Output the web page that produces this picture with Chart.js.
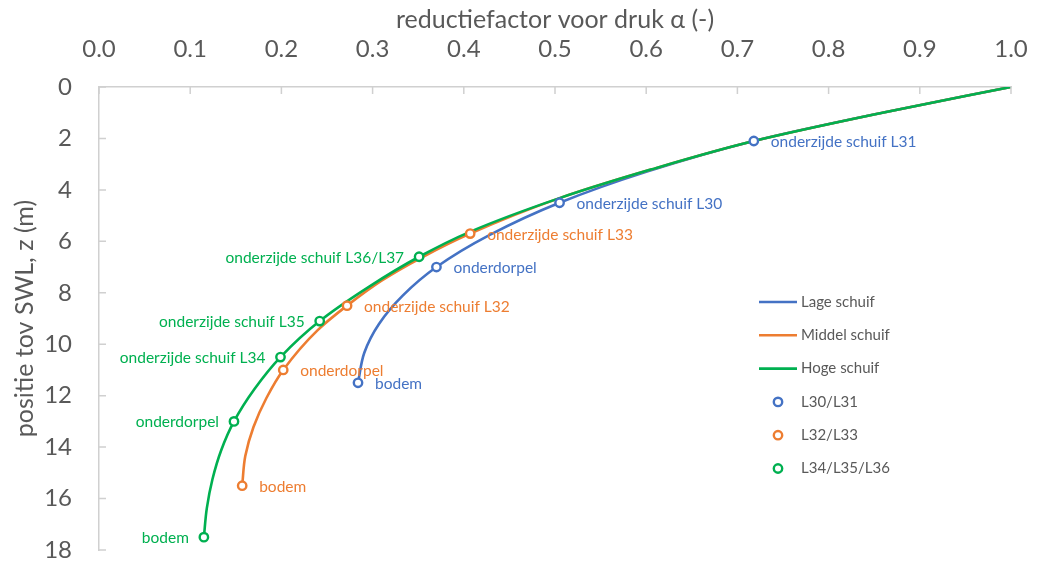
<!DOCTYPE html>
<html>
<head>
<meta charset="utf-8">
<script src="https://cdn.jsdelivr.net/npm/chart.js@4.4.1/dist/chart.umd.min.js"></script>
<style>
  html, body { margin: 0; padding: 0; background: #ffffff; overflow: hidden; }
  #chart { display: block; }
</style>
</head>
<body>
<canvas id="chart" width="1039" height="562"></canvas>
<script>
// Pressure reduction factor alpha versus depth below SWL for three gate heights
const seriesNames = ['Lage schuif', 'Middel schuif', 'Hoge schuif'];
const markerNames = ['L30/L31', 'L32/L33', 'L34/L35/L36'];

// Curves: alpha against depth z
const lageAlpha   = [1.0, 0.859, 0.718, 0.600, 0.505, 0.4285, 0.370, 0.333, 0.307, 0.291, 0.284];
const lageZ       = [0.0, 1.0,   2.1,   3.30,  4.5,   5.75,   7.0,   8.11,  9.21,  10.32, 11.5];
const middelAlpha = [1.0, 0.859, 0.718, 0.605, 0.505, 0.407, 0.3548, 0.3098, 0.272, 0.2398, 0.202, 0.1836, 0.1694, 0.1604, 0.157];
const middelZ     = [0.0, 1.0,   2.1,   3.21,  4.32,  5.7,   6.61,   7.53,   8.5,   9.45,   11.0,  12.09,  13.22,  14.35,  15.5];
const hogeAlpha   = [1.0, 0.859, 0.718, 0.605, 0.505, 0.406, 0.351, 0.2963, 0.242, 0.199, 0.1705, 0.148, 0.134, 0.1244, 0.1182, 0.115];
const hogeZ       = [0.0, 1.0,   2.1,   3.21,  4.32,  5.64,  6.6,   7.76,   9.1,   10.5,  11.74,  13.0,  14.12, 15.25,  16.38,  17.5];

// Marked levels (alpha, z) with their names
const l30Alpha = [0.718, 0.505, 0.370, 0.284];
const l30Z     = [2.1, 4.5, 7.0, 11.5];
const l30Text  = ['onderzijde schuif L31', 'onderzijde schuif L30', 'onderdorpel', 'bodem'];
const l32Alpha = [0.407, 0.272, 0.202, 0.157];
const l32Z     = [5.7, 8.5, 11.0, 15.5];
const l32Text  = ['onderzijde schuif L33', 'onderzijde schuif L32', 'onderdorpel', 'bodem'];
const l34Alpha = [0.351, 0.242, 0.199, 0.148, 0.115];
const l34Z     = [6.6, 9.1, 10.5, 13.0, 17.5];
const l34Text  = ['onderzijde schuif L36/L37', 'onderzijde schuif L35', 'onderzijde schuif L34', 'onderdorpel', 'bodem'];

// Axis ticks
const xTicks = [0.0, 0.1, 0.2, 0.3, 0.4, 0.5, 0.6, 0.7, 0.8, 0.9, 1.0];
const yTicks = [0, 2, 4, 6, 8, 10, 12, 14, 16, 18];

const BLUE = '#4472C4', ORANGE = '#ED7D31', GREEN = '#00B050';
const GREY = '#595959', AXIS = '#d0d0d0';
const FONT = 'Lato, "Open Sans", sans-serif';

const pairs = (xs, ys) => xs.map((x, i) => ({ x: x, y: ys[i] }));

function curve(label, xs, ys, color, order) {
  return {
    label, data: pairs(xs, ys), borderColor: color, backgroundColor: color,
    borderWidth: 2.6, pointRadius: 0, showLine: true,
    cubicInterpolationMode: 'monotone', order
  };
}
function marks(label, xs, ys, texts, color, side) {
  return {
    label, data: pairs(xs, ys), borderColor: color, backgroundColor: '#ffffff',
    pointBorderColor: color, pointBackgroundColor: '#ffffff',
    pointRadius: 4.2, pointBorderWidth: 2.4, showLine: false, order: 0,
    pointTexts: texts, textSide: side
  };
}

// Coloured names beside each marked level
const pointLabels = {
  id: 'pointLabels',
  afterDatasetsDraw(chart) {
    const ctx = chart.ctx;
    ctx.save();
    ctx.font = '15.5px ' + FONT;
    ctx.textBaseline = 'middle';
    chart.data.datasets.forEach((ds, i) => {
      if (!ds.pointTexts) return;
      const meta = chart.getDatasetMeta(i);
      ctx.fillStyle = ds.pointBorderColor;
      ctx.textAlign = ds.textSide === 'left' ? 'right' : 'left';
      const dx = ds.textSide === 'left' ? -15 : 17;
      meta.data.forEach((pt, j) => ctx.fillText(ds.pointTexts[j], pt.x + dx, pt.y + 1));
    });
    ctx.restore();
  }
};

// Inward tick marks on both axes
const innerTicks = {
  id: 'innerTicks',
  afterDraw(chart) {
    const ctx = chart.ctx, a = chart.chartArea;
    const xs = chart.scales.x, ys = chart.scales.y;
    ctx.save();
    ctx.strokeStyle = AXIS;
    ctx.lineWidth = 1.5;
    ctx.beginPath();
    xTicks.forEach(v => { const p = xs.getPixelForValue(v); ctx.moveTo(p, a.top); ctx.lineTo(p, a.top + 7); });
    yTicks.forEach(v => { const p = ys.getPixelForValue(v); ctx.moveTo(a.left, p); ctx.lineTo(a.left + 7, p); });
    ctx.stroke();
    ctx.restore();
  }
};

// Legend panel inside the plot area
const sideLegend = {
  id: 'sideLegend',
  afterDraw(chart) {
    const ctx = chart.ctx;
    const x0 = 759, y0 = 302, step = 33.3;
    ctx.save();
    ctx.font = '15px ' + FONT;
    ctx.textBaseline = 'middle';
    ctx.textAlign = 'left';
    chart.data.datasets.forEach((ds, i) => {
      const y = y0 + i * step;
      if (ds.showLine) {
        ctx.strokeStyle = ds.borderColor;
        ctx.lineWidth = 2.6;
        ctx.beginPath(); ctx.moveTo(x0, y); ctx.lineTo(x0 + 38, y); ctx.stroke();
      } else {
        ctx.strokeStyle = ds.pointBorderColor;
        ctx.fillStyle = '#ffffff';
        ctx.lineWidth = 2.4;
        ctx.beginPath(); ctx.arc(x0 + 19, y, 4.2, 0, Math.PI * 2); ctx.fill(); ctx.stroke();
      }
      ctx.fillStyle = GREY;
      ctx.fillText(ds.label, x0 + 42, y);
    });
    ctx.restore();
  }
};

new Chart(document.getElementById('chart'), {
  type: 'line',
  data: {
    datasets: [
      curve(seriesNames[0], lageAlpha, lageZ, BLUE, 3),
      curve(seriesNames[1], middelAlpha, middelZ, ORANGE, 2),
      curve(seriesNames[2], hogeAlpha, hogeZ, GREEN, 1),
      marks(markerNames[0], l30Alpha, l30Z, l30Text, BLUE, 'right'),
      marks(markerNames[1], l32Alpha, l32Z, l32Text, ORANGE, 'right'),
      marks(markerNames[2], l34Alpha, l34Z, l34Text, GREEN, 'left')
    ]
  },
  options: {
    indexAxis: 'y',
    responsive: false,
    animation: false,
    layout: { padding: { left: 0, top: 0, right: 28, bottom: 12 } },
    plugins: { legend: { display: false }, tooltip: { enabled: false } },
    scales: {
      x: {
        type: 'linear', position: 'top', min: 0, max: 1,
        afterFit(s) { s.height = 87; s.paddingLeft = 0; s.paddingRight = 0; },
        afterBuildTicks(s) { s.ticks = xTicks.map(v => ({ value: v })); },
        ticks: {
          color: GREY, font: { family: FONT, size: 24 }, padding: 23,
          callback: v => Number(v).toFixed(1)
        },
        grid: { drawOnChartArea: false, drawTicks: false },
        border: { color: AXIS, width: 1.5 },
        title: {
          display: true, text: 'reductiefactor voor druk α (-)', color: GREY,
          font: { family: FONT, size: 25 }, padding: { top: 5, bottom: 0 }
        }
      },
      y: {
        type: 'linear', position: 'left', reverse: true, min: 0, max: 18,
        afterFit(s) { s.width = 99; s.paddingTop = 0; s.paddingBottom = 0; },
        afterBuildTicks(s) { s.ticks = yTicks.map(v => ({ value: v })); },
        ticks: { color: GREY, font: { family: FONT, size: 24 }, padding: 27 },
        grid: { drawOnChartArea: false, drawTicks: false },
        border: { color: AXIS, width: 1.5 },
        title: {
          display: true, text: 'positie tov SWL, z (m)', color: GREY,
          font: { family: FONT, size: 25 }, padding: { top: 10, bottom: 0 }
        }
      }
    }
  },
  plugins: [pointLabels, innerTicks, sideLegend]
});
</script>
</body>
</html>
